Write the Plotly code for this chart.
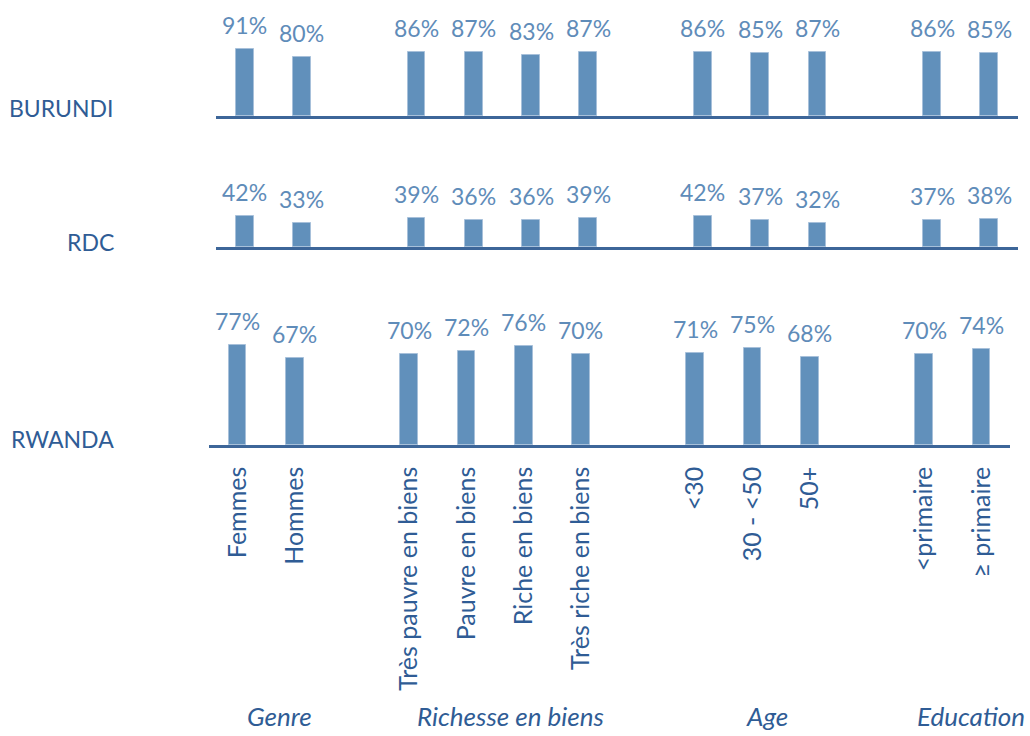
import plotly.graph_objects as go

# Category slots (blank slots separate the four groups)
categories = ["Femmes", "Hommes", " ",
              "Très pauvre en biens", "Pauvre en biens", "Riche en biens", "Très riche en biens", "  ",
              "<30", "30 - <50", "50+", "   ",
              "<primaire", "≥ primaire"]
bar_categories = ["Femmes", "Hommes",
                  "Très pauvre en biens", "Pauvre en biens", "Riche en biens", "Très riche en biens",
                  "<30", "30 - <50", "50+",
                  "<primaire", "≥ primaire"]

countries = ["BURUNDI", "RDC", "RWANDA"]
burundi = [91, 80, 86, 87, 83, 87, 86, 85, 87, 86, 85]
rdc = [42, 33, 39, 36, 36, 39, 42, 37, 32, 37, 38]
rwanda = [77, 67, 70, 72, 76, 70, 71, 75, 68, 70, 74]
series = [burundi, rdc, rwanda]

groups = ["Genre", "Richesse en biens", "Age", "Education"]

W, H = 1030, 736
BAR = "#6190BB"
LINE = "#3D6699"
DARK = "#2F5C95"
LABEL = "#5F8CB9"
FONT = "Lato"


def px_x(p):
    return p / W


def px_y(p):
    return 1 - p / H


# pixel geometry of each row: (x left, x right, baseline y, top y for 100%)
rows = [
    (216, 1018, 116, 42),
    (216, 1018, 247, 173),
    (209, 1010, 445, 315),
]

fig = go.Figure()
annotations = []

for i, (vals, (xl, xr, yb, yt)) in enumerate(zip(series, rows)):
    sfx = "" if i == 0 else str(i + 1)
    fig.add_trace(go.Bar(
        x=bar_categories, y=vals,
        xaxis="x" + sfx, yaxis="y" + sfx,
        marker=dict(color=BAR, line=dict(color="#A7C0DA", width=1)),
        width=0.31, showlegend=False, hoverinfo="skip",
    ))
    for c, v in zip(bar_categories, vals):
        annotations.append(dict(
            x=c, y=v, xref="x" + sfx, yref="y" + sfx,
            text=f"{v}%", showarrow=False, yanchor="bottom", yshift=8,
            font=dict(family=FONT, size=23, color=LABEL),
        ))
    xa = dict(
        domain=[px_x(xl), px_x(xr)], anchor="y" + sfx,
        type="category", categoryorder="array", categoryarray=categories,
        range=[-0.5, 13.5], showgrid=False, zeroline=False,
        showline=True, linecolor=LINE, linewidth=2.5,
        showticklabels=(i == 2), ticks="",
        fixedrange=True,
    )
    if i == 2:
        xa.update(tickangle=-90, ticklabelstandoff=9,
                  tickfont=dict(family=FONT, size=25, color=DARK))
    ya = dict(
        domain=[px_y(yb), px_y(yt)], anchor="x" + sfx,
        range=[0, 100], visible=False, fixedrange=True,
    )
    fig.update_layout(**{"xaxis" + sfx: xa, "yaxis" + sfx: ya})

# Country names at the left
for name, yc in zip(countries, [108, 242, 439]):
    annotations.append(dict(
        x=px_x(116), y=px_y(yc), xref="paper", yref="paper",
        text=name, showarrow=False, xanchor="right", yanchor="middle",
        font=dict(family=FONT, size=23, color=DARK),
    ))

# Group titles along the bottom
for g, xc in zip(groups, [279, 510, 767, 971]):
    annotations.append(dict(
        x=px_x(xc), y=px_y(716), xref="paper", yref="paper",
        text=f"<i>{g}</i>", showarrow=False, xanchor="center", yanchor="middle",
        font=dict(family=FONT, size=26, color=DARK),
    ))

fig.update_layout(
    width=W, height=H,
    margin=dict(l=0, r=0, t=0, b=0),
    paper_bgcolor="white", plot_bgcolor="white",
    annotations=annotations,
    bargap=0,
)

fig.write_html("out.html")
